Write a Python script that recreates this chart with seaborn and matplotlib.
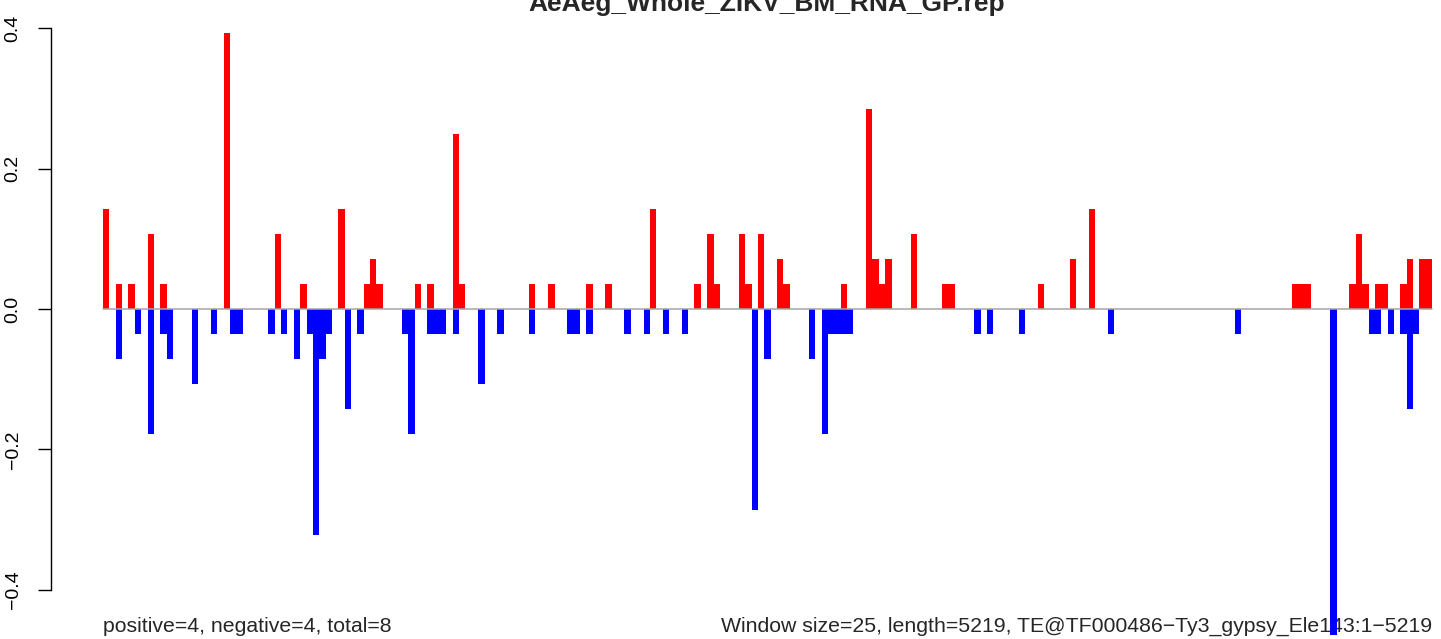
import pandas as pd
import matplotlib
matplotlib.use("Agg")
import matplotlib.pyplot as plt
import seaborn as sns

sns.set_style("white")
plt.rcParams["font.family"] = ["Liberation Sans", "DejaVu Sans"]

# window count: length 5219 / window size 25
n_windows = 209

# positive strand (red), window index -> value
pos_windows = [0, 2, 4, 7, 9, 19, 27, 31, 37, 41, 42, 43, 49, 51, 55, 56, 67, 70,
               76, 79, 86, 93, 95, 96, 100, 101, 103, 106, 107, 116, 120, 121, 122,
               123, 127, 132, 133, 147, 152, 155, 187, 188, 189, 196, 197, 198, 200,
               201, 204, 205, 207, 208]
pos_values = [0.1429, 0.0357, 0.0357, 0.1071, 0.0357, 0.3929, 0.1071, 0.0357, 0.1429,
              0.0357, 0.0714, 0.0357, 0.0357, 0.0357, 0.25, 0.0357, 0.0357, 0.0357,
              0.0357, 0.0357, 0.1429, 0.0357, 0.1071, 0.0357, 0.1071, 0.0357, 0.1071,
              0.0714, 0.0357, 0.0357, 0.2857, 0.0714, 0.0357, 0.0714, 0.1071, 0.0357,
              0.0357, 0.0357, 0.0714, 0.1429, 0.0357, 0.0357, 0.0357, 0.0357, 0.1071,
              0.0357, 0.0357, 0.0357, 0.0357, 0.0714, 0.0714, 0.0714]

# negative strand (blue)
neg_windows = [2, 5, 7, 9, 10, 14, 17, 20, 21, 26, 28, 30, 32, 33, 34, 35, 38, 40,
               47, 48, 51, 52, 53, 55, 59, 62, 67, 73, 74, 76, 82, 85, 88, 91, 102,
               104, 111, 113, 114, 115, 116, 117, 137, 139, 144, 158, 178, 193, 199,
               200, 202, 204, 205, 206]
neg_values = [-0.0714, -0.0357, -0.1786, -0.0357, -0.0714, -0.1071, -0.0357, -0.0357,
              -0.0357, -0.0357, -0.0357, -0.0714, -0.0357, -0.3214, -0.0714, -0.0357,
              -0.1429, -0.0357, -0.0357, -0.1786, -0.0357, -0.0357, -0.0357, -0.0357,
              -0.1071, -0.0357, -0.0357, -0.0357, -0.0357, -0.0357, -0.0357, -0.0357,
              -0.0357, -0.0357, -0.2857, -0.0714, -0.0714, -0.1786, -0.0357, -0.0357,
              -0.0357, -0.0357, -0.0357, -0.0357, -0.0357, -0.0357, -0.0357, -0.4643,
              -0.0357, -0.0357, -0.0357, -0.0357, -0.1429, -0.0357]

yticks = [-0.4, -0.2, 0.0, 0.2, 0.4]
ytick_labels = ["\u22120.4", "\u22120.2", "0.0", "0.2", "0.4"]

title = "AeAeg_Whole_ZIKV_BM_RNA_GP.rep"
left_note = "positive=4, negative=4, total=8"
right_note = "Window size=25, length=5219, TE@TF000486\u2212Ty3_gypsy_Ele143:1\u22125219"

df = pd.DataFrame({"window": range(n_windows)})
df["pos"] = 0.0
df["neg"] = 0.0
df.loc[pos_windows, "pos"] = pos_values
df.loc[neg_windows, "neg"] = neg_values

fig = plt.figure(figsize=(14.41, 6.39), dpi=100)
ax = fig.add_axes([51 / 1441, 0, 1390 / 1441, 1])

sns.barplot(data=df, x="window", y="pos", color="#ff0000", saturation=1,
            width=1, linewidth=0, errorbar=None, ax=ax, zorder=2)
sns.barplot(data=df, x="window", y="neg", color="#0000ff", saturation=1,
            width=1, linewidth=0, errorbar=None, ax=ax, zorder=2)

# zero line across the bars
ax.plot([-0.5, n_windows - 0.5], [0, 0], color="#a6a6a6", lw=1.1, zorder=3)

ax.set_xlim(-8.68, 209.9)
ax.set_ylim(-0.4702, 0.4403)
ax.set_xticks([])
ax.set_xlabel("")
ax.set_ylabel("")

sns.despine(ax=ax, top=True, right=True, bottom=True)
ax.spines["left"].set_bounds(-0.4, 0.4)
ax.spines["left"].set_linewidth(1)
ax.spines["left"].set_color("black")
ax.set_yticks(yticks)
ax.set_yticklabels(ytick_labels, rotation=90, va="center")
ax.tick_params(axis="y", left=True, length=9.1, width=1, pad=12, labelsize=14,
               colors="black")

fig.text(767 / 1441, 1 - 11 / 639, title, ha="center", va="baseline",
         fontsize=19, fontweight="bold")
ax.text(103 / 1441, 7 / 639, left_note, transform=fig.transFigure, ha="left",
        va="baseline", fontsize=15.3, zorder=1)
ax.text(1432 / 1441, 7 / 639, right_note, transform=fig.transFigure, ha="right",
        va="baseline", fontsize=15.3, zorder=1)

fig.savefig("out.png", dpi=100)
